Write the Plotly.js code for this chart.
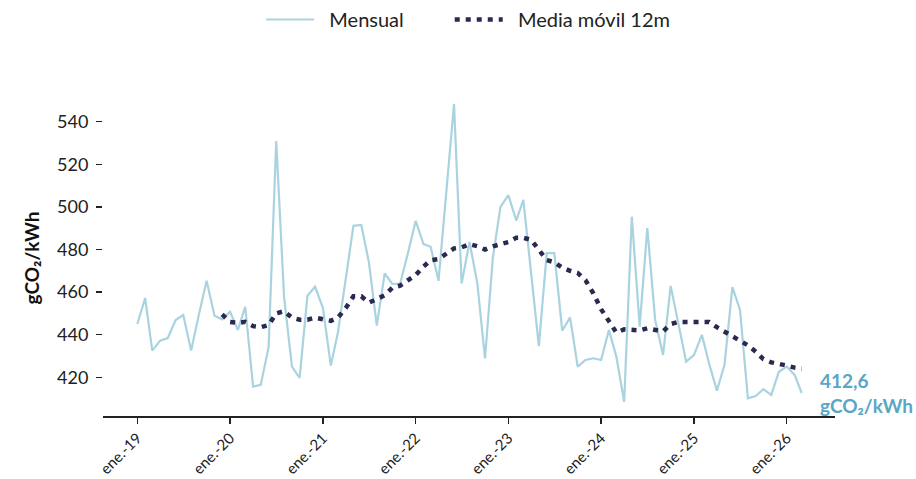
<!DOCTYPE html>
<html>
<head>
<meta charset="utf-8">
<script src="https://cdn.plot.ly/plotly-3.0.1.min.js"></script>
<style>
  html, body { margin: 0; padding: 0; background: #fff; }
  #chart { width: 916px; height: 479px; }
</style>
</head>
<body>
<div id="chart"></div>
<script>
// ---- Data ----
const startYear = 2019;           // first month: Jan 2019
const unitLabel = 'gCO₂/kWh';
const seriesNames = ['Mensual', 'Media móvil 12m'];

// Monthly values, Jan 2019 .. Mar 2026
const monthly = [
  445.0, 457.2, 432.5, 437.2, 438.4, 446.9, 449.2, 432.5, 449.7, 465.3, 448.9, 447.2,   // 2019
  450.8, 442.2, 453.1, 415.6, 416.4, 434.1, 530.9, 457.5, 425.0, 419.7, 458.3, 462.5,   // 2020
  452.5, 425.5, 441.0, 466.0, 491.1, 491.5, 473.9, 444.2, 468.8, 463.8, 464.0, 478.0,   // 2021
  493.4, 482.5, 481.3, 465.3, 507.0, 548.3, 464.0, 483.5, 464.0, 428.8, 476.3, 500.0,   // 2022
  505.5, 493.6, 503.3, 469.0, 434.6, 478.3, 478.3, 441.9, 448.1, 425.0, 428.1, 428.9,   // 2023
  428.1, 442.2, 429.7, 408.5, 495.4, 443.8, 490.0, 446.9, 430.5, 462.9, 445.4, 427.3,   // 2024
  430.5, 439.9, 426.6, 413.7, 425.8, 462.3, 451.6, 410.1, 411.2, 414.4, 411.7, 422.6,   // 2025
  425.0, 421.1, 412.6                                                                   // 2026
];

// 12-month moving average, Dec 2019 .. Mar 2026
const maStartIndex = 11;
const movingAvg12 = [
  449.5,                                                                                 // Dec 2019
  446.0, 445.5, 446.0, 444.0, 443.5, 444.5, 450.0, 451.0, 448.0, 447.0, 447.0, 448.0,   // 2020
  447.5, 446.5, 448.0, 452.5, 458.0, 458.0, 455.0, 456.5, 458.5, 462.0, 463.0, 465.5,   // 2021
  468.0, 472.0, 475.0, 475.5, 478.0, 480.5, 481.0, 482.5, 481.5, 480.0, 481.5, 482.5,   // 2022
  483.5, 485.5, 485.5, 484.5, 479.5, 475.0, 474.0, 471.5, 470.0, 469.0, 465.5, 459.5,   // 2023
  452.0, 446.0, 441.0, 442.5, 442.0, 442.0, 443.0, 442.5, 441.5, 445.0, 446.0, 446.0,   // 2024
  446.0, 446.0, 446.0, 443.5, 441.5, 439.5, 437.0, 435.0, 432.0, 428.5, 427.0, 426.5,   // 2025
  425.5, 424.5, 424.0                                                                   // 2026
];

const tickYears  = [2019, 2020, 2021, 2022, 2023, 2024, 2025, 2026];
const tickLabels = ['ene.-19', 'ene.-20', 'ene.-21', 'ene.-22', 'ene.-23', 'ene.-24', 'ene.-25', 'ene.-26'];
const yTicks     = [420, 440, 460, 480, 500, 520, 540];

// ---- Build date categories ----
function monthDate(i) {
  const y = startYear + Math.floor(i / 12);
  const m = (i % 12) + 1;
  return y + '-' + String(m).padStart(2, '0') + '-01';
}
const months = monthly.map((_, i) => monthDate(i));
const maSeries = months.map((_, i) => i < maStartIndex ? null : movingAvg12[i - maStartIndex]);
const tickVals = tickYears.map(y => y + '-01-01');

const FONT = 'Lato, "Liberation Sans", Arial, sans-serif';
const NB = '\u00a0';
const lead = NB.repeat(2);          // gap between legend symbol and text
const trail = NB.repeat(8);         // gap between legend entries

const traces = [
  {
    name: lead + seriesNames[0] + trail,
    x: months, y: monthly,
    type: 'scatter', mode: 'lines',
    line: { color: '#a9d3df', width: 2.2 },
    hoverinfo: 'skip'
  },
  {
    name: lead + seriesNames[1],
    x: months, y: maSeries,
    type: 'scatter', mode: 'lines',
    line: { color: '#2a2a50', width: 4.5, dash: '5px,6px' },
    connectgaps: false,
    hoverinfo: 'skip'
  }
];

const lastIdx = monthly.length - 1;
const lastText = String(monthly[lastIdx]).replace('.', ',') + '<br>' + unitLabel;

const layout = {
  width: 916, height: 479,
  paper_bgcolor: '#ffffff', plot_bgcolor: '#ffffff',
  margin: { l: 103, r: 81, t: 100, b: 63, pad: 0 },
  font: { family: FONT, size: 17, color: '#222222' },
  showlegend: true,
  legend: {
    orientation: 'h',
    xref: 'container', yref: 'container',
    x: 0.511, xanchor: 'center',
    y: 1.0, yanchor: 'top',
    itemwidth: 48,
    font: { family: FONT, size: 20, color: '#222222' },
    bgcolor: 'rgba(0,0,0,0)'
  },
  xaxis: {
    type: 'date',
    range: ['2018-08-19', '2026-07-10'],
    tickmode: 'array',
    tickvals: tickVals,
    ticktext: tickLabels,
    tickangle: -45,
    ticks: 'outside', ticklen: 6, tickwidth: 1.5, tickcolor: '#222222',
    showline: true, linecolor: '#222222', linewidth: 1.5,
    showgrid: false, zeroline: false,
    tickfont: { family: FONT, size: 15, color: '#222222' },
    automargin: false,
    fixedrange: true
  },
  yaxis: {
    range: [401.8, 550.2],
    tickmode: 'array',
    tickvals: yTicks,
    ticktext: yTicks.map(String),
    ticks: 'outside', ticklen: 6, tickwidth: 1.5, tickcolor: '#222222',
    ticklabelstandoff: 4,
    showline: false, showgrid: false, zeroline: false,
    tickfont: { family: FONT, size: 18, color: '#222222' },
    title: { text: '<b>' + unitLabel + '</b>', font: { family: FONT, size: 19, color: '#111111' }, standoff: 12 },
    automargin: false,
    fixedrange: true
  },
  annotations: [
    {
      x: months[lastIdx], y: monthly[lastIdx],
      xref: 'x', yref: 'y',
      text: '<b>' + lastText + '</b>',
      showarrow: false,
      xanchor: 'left', yanchor: 'middle', align: 'left',
      xshift: 16,
      font: { family: FONT, size: 19, color: '#5aa6c6' }
    }
  ]
};

Plotly.newPlot('chart', traces, layout, { staticPlot: true, displayModeBar: false });
</script>
</body>
</html>
